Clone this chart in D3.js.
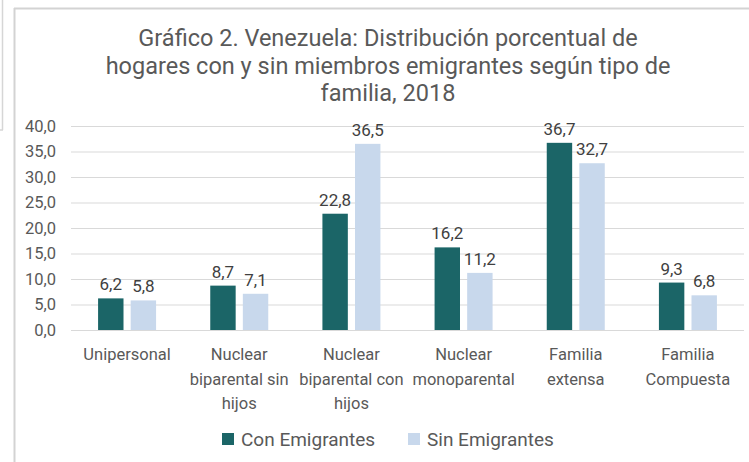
<!DOCTYPE html>
<html>
<head>
<meta charset="utf-8">
<script src="https://cdn.jsdelivr.net/npm/d3@7/dist/d3.min.js"></script>
<style>
  html, body { margin: 0; padding: 0; background: #fff; }
  svg { display: block; font-family: Roboto, "Noto Sans", sans-serif; }
</style>
</head>
<body>
<svg id="chart" width="749" height="462"></svg>
<script>
// Household types (each label split into its display lines)
const categories = [
  ["Unipersonal"],
  ["Nuclear", "biparental sin", "hijos"],
  ["Nuclear", "biparental con", "hijos"],
  ["Nuclear", "monoparental"],
  ["Familia", "extensa"],
  ["Familia", "Compuesta"]
];
const seriesNames = ["Con Emigrantes", "Sin Emigrantes"];
const conEmigrantes = [6.2, 8.7, 22.8, 16.2, 36.7, 9.3];
const sinEmigrantes = [5.8, 7.1, 36.5, 11.2, 32.7, 6.8];
const yTicks = [0, 5, 10, 15, 20, 25, 30, 35, 40];
const titleLines = [
  "Gráfico 2. Venezuela: Distribución porcentual de",
  "hogares con y sin miembros emigrantes según tipo de",
  "familia, 2018"
];

const colors = ["#1b6567", "#c8d8ec"];
const fmt = v => d3.format(".1f")(v).replace(".", ",");

const svg = d3.select("#chart");

// panel frames
svg.append("line").attr("x1", 2.5).attr("x2", 2.5).attr("y1", 0).attr("y2", 130)
  .attr("stroke", "#d6d6d6").attr("stroke-width", 1.5);
svg.append("line").attr("x1", 0).attr("x2", 3).attr("y1", 130).attr("y2", 130)
  .attr("stroke", "#d6d6d6").attr("stroke-width", 1.5);
svg.append("line").attr("x1", 14.5).attr("x2", 14.5).attr("y1", 8).attr("y2", 462)
  .attr("stroke", "#d3d3d3").attr("stroke-width", 2);
svg.append("line").attr("x1", 14).attr("x2", 749).attr("y1", 8.5).attr("y2", 8.5)
  .attr("stroke", "#d3d3d3").attr("stroke-width", 2);

// title
svg.append("g").selectAll("text").data(titleLines).join("text")
  .attr("x", 388).attr("y", (d, i) => 46 + i * 27.5)
  .attr("text-anchor", "middle")
  .attr("font-size", 23.5).attr("fill", "#595959")
  .text(d => d);

const margin = { left: 71, right: 5 };
const x0 = d3.scaleBand().domain(d3.range(categories.length))
  .range([margin.left, 749 - margin.right]).paddingInner(0).paddingOuter(0);
const y = d3.scaleLinear().domain([0, 40]).range([330, 126]);

const groupWidth = 58;
const x1 = d3.scaleBand().domain([0, 1]).range([0, groupWidth]).paddingInner(0.22);

// gridlines
svg.append("g").selectAll("line").data(yTicks).join("line")
  .attr("x1", margin.left).attr("x2", 744)
  .attr("y1", d => y(d) + 0.5).attr("y2", d => y(d) + 0.5)
  .attr("stroke", "#d9d9d9").attr("stroke-width", 1);

// y axis labels
const yAxis = d3.axisLeft(y).tickValues(yTicks).tickFormat(fmt).tickSize(0).tickPadding(0);
const yg = svg.append("g").attr("transform", "translate(56,0)").call(yAxis);
yg.select(".domain").remove();
yg.selectAll("text").attr("font-size", 16.5).attr("fill", "#595959")
  .attr("font-family", "Roboto, sans-serif");

// bars
const series = [conEmigrantes, sinEmigrantes];
const groups = svg.append("g").selectAll("g").data(categories).join("g")
  .attr("transform", (d, i) => `translate(${x0(i) + (x0.bandwidth() - groupWidth) / 2},0)`);

groups.each(function (c, i) {
  const g = d3.select(this);
  series.forEach((vals, s) => {
    const v = vals[i];
    g.append("rect")
      .attr("x", x1(s)).attr("width", x1.bandwidth())
      .attr("y", y(v)).attr("height", y(0) - y(v))
      .attr("fill", colors[s]);
    g.append("text")
      .attr("x", x1(s) + x1.bandwidth() / 2).attr("y", y(v) - 8)
      .attr("text-anchor", "middle").attr("font-size", 17).attr("fill", "#404040")
      .text(fmt(v));
  });
});

// category labels
const cat = svg.append("g").selectAll("text").data(categories).join("text")
  .attr("x", (d, i) => x0(i) + x0.bandwidth() / 2)
  .attr("y", 360)
  .attr("text-anchor", "middle").attr("font-size", 16.5).attr("fill", "#595959");
cat.selectAll("tspan").data(d => d).join("tspan")
  .attr("x", function () { return d3.select(this.parentNode).attr("x"); })
  .attr("dy", (d, i) => i === 0 ? 0 : 24.5)
  .text(d => d);

// legend
const legendX = [222, 408];
const lg = svg.append("g").selectAll("g").data(seriesNames).join("g")
  .attr("transform", (d, i) => `translate(${legendX[i]},0)`);
lg.append("rect").attr("x", 0).attr("y", 433).attr("width", 12).attr("height", 12)
  .attr("fill", (d, i) => colors[i]);
lg.append("text").attr("x", 19).attr("y", 446)
  .attr("font-size", 19).attr("fill", "#595959").text(d => d);
</script>
</body>
</html>
